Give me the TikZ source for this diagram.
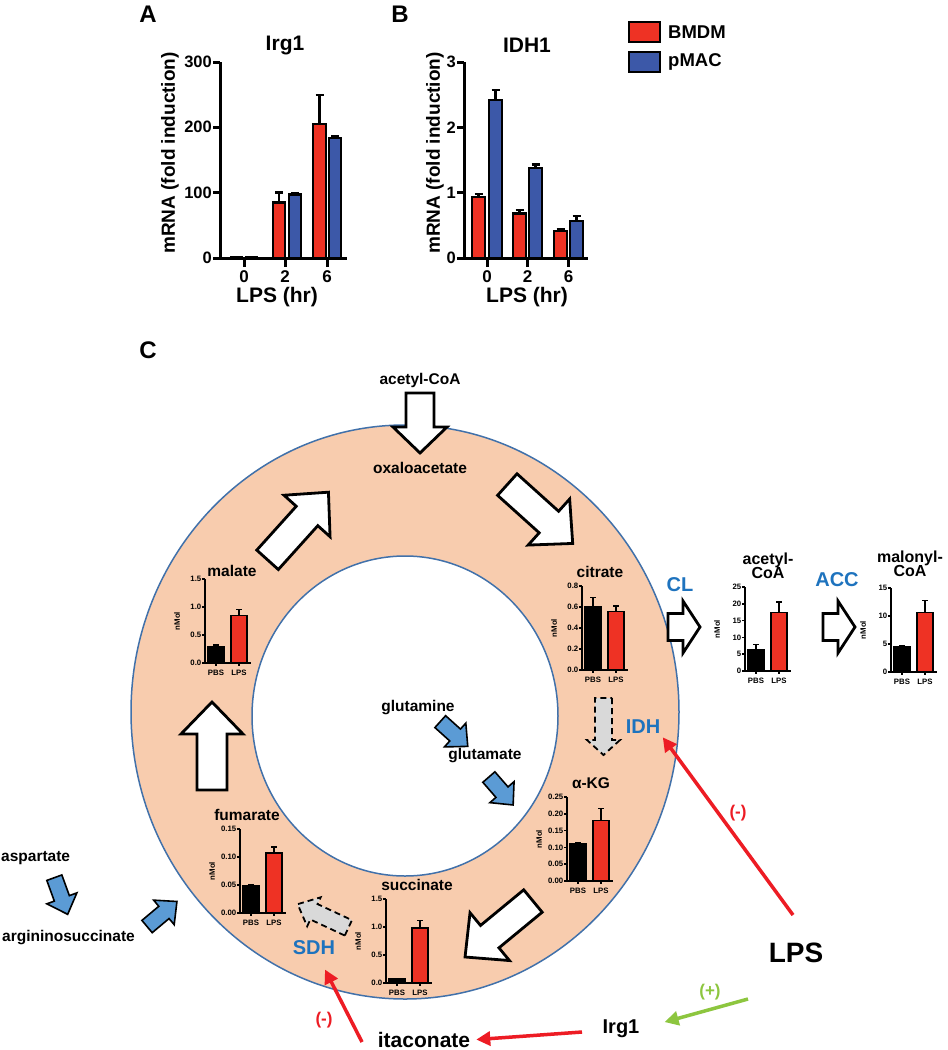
\documentclass[tikz,border=0pt]{standalone}
\usepackage{fontspec}
\setmainfont{Liberation Sans}
\usetikzlibrary{arrows.meta,calc}
\definecolor{peach}{RGB}{248,204,174}
\definecolor{ringblue}{RGB}{65,113,170}
\definecolor{barred}{RGB}{238,50,36}
\definecolor{barblue}{RGB}{60,88,168}
\definecolor{enzblue}{RGB}{30,115,190}
\definecolor{arrblue}{RGB}{91,155,213}
\definecolor{lred}{RGB}{237,28,36}
\definecolor{lgreen}{RGB}{141,198,63}
\definecolor{dgray}{RGB}{217,217,217}
\newcommand\fs[1]{\fontsize{#1}{#1}\selectfont\bfseries}
% block arrow: style, center, angle, length, shaft half width, head half width, head length
\newcommand\blk[7]{\draw[#1,shift={#2},rotate=#3] (-#4/2,-#5)--(#4/2-#7,-#5)--(#4/2-#7,-#6)--(#4/2,0)--(#4/2-#7,#6)--(#4/2-#7,#5)--(-#4/2,#5)--cycle;}
% bar of panels A/B: x1,x2,top,err,colour
\newcommand\pbar[5]{\draw[barA,fill=#5] (#1,258) rectangle (#2,#3);
 \draw[line width=2.5pt] ({(#1+#2)/2},#3) -- ({(#1+#2)/2},#4) ({(#1+#2)/2-4},#4) -- ({(#1+#2)/2+4},#4);}
% small chart: ox, oy, max, tick labels, steps, black, black err, red, red err
\newcommand\chart[9]{%
\begin{scope}[shift={(#1,#2)}]
 \pgfmathsetmacro\cHb{-84*#6/#3}\pgfmathsetmacro\cEb{-84*#7/#3}
 \pgfmathsetmacro\cHr{-84*#8/#3}\pgfmathsetmacro\cEr{-84*#9/#3}
 \draw[cbar,fill=black] (3,0) rectangle (19,\cHb);
 \draw[cbar] (11,\cHb) -- (11,\cEb) (8,\cEb) -- (14,\cEb);
 \draw[cbar,fill=barred] (26,0) rectangle (42,\cHr);
 \draw[cbar] (34,\cHr) -- (34,\cEr) (31,\cEr) -- (37,\cEr);
 \draw[ax] (0,-84) -- (0,0) -- (46,0);
 \draw[ax] (11,0) -- (11,3) (34,0) -- (34,3);
 \foreach \t [count=\k from 0] in {#4} {
   \pgfmathsetmacro\yy{-84*\k/#5}
   \draw[ax] (0,\yy) -- (-3,\yy);
   \node[ticklab,anchor=east] at (-3,\yy) {\t};}
 \node[ticklab] at (11,10) {PBS};
 \node[ticklab] at (34,10) {LPS};
 \node[ticklab,rotate=90] at (-28,-42) {nMol};
\end{scope}}
\tikzset{
 barA/.style={draw=black,line width=2.5pt},
 axA/.style={line width=3pt},
 ax/.style={line width=1.6pt},
 cbar/.style={draw=black,line width=1.3pt},
 ticklab/.style={font=\fs{7.8},inner sep=0.5pt},
 lab/.style={font=\fs{15.5},inner sep=0pt},
 enz/.style={font=\fs{20},text=enzblue,inner sep=0pt},
 whitearr/.style={draw=black,fill=white,line width=2.8pt,line join=miter},
 bluearr/.style={draw=black,fill=arrblue,line width=1.6pt,line join=miter},
 grayarr/.style={draw=black,fill=dgray,line width=1.8pt,dash pattern=on 6pt off 4pt},
 redarr/.style={draw=lred,line width=3.5pt,-{Triangle[length=14pt,width=14pt]}},
 greenarr/.style={draw=lgreen,line width=3.5pt,-{Triangle[length=14pt,width=14pt]}},
}
\begin{document}
\begin{tikzpicture}[x=1pt,y=-1pt]
\useasboundingbox[fill=white] (0,0) rectangle (948,1050);
% ---------------- Panel A
\node[font=\fs{24}] (labA) at (148,14) {A};
\node[font=\fs{21}] (tA) at (285,45) {Irg1};
\pbar{231}{242}{257}{257}{barred}
\pbar{246}{257}{257}{257}{barblue}
\pbar{273}{285}{202.5}{192.7}{barred}
\pbar{289}{301}{194.6}{193.6}{barblue}
\pbar{313}{326}{124}{95}{barred}
\pbar{329}{341}{138}{136}{barblue}
\draw[axA] (220,62) -- (220,258) -- (347,258);
\foreach \y/\l in {62/300,127.3/200,192.7/100,258/0} {
  \draw[axA] (220,\y) -- (213,\y);
  \node[anchor=east,font=\fs{16.5},inner sep=1pt] at (213,\y) {\l};}
\foreach \x/\l in {244/0,285/2,327/6} {
  \draw[axA] (\x,258) -- (\x,267);
  \node[font=\fs{17},inner sep=0pt] at (\x,277) {\l};}
\node[font=\fs{21},inner sep=0pt] (xA) at (277,297) {LPS (hr)};
\node[font=\fs{19},rotate=90] (yA) at (170,153) {mRNA (fold induction)};
% ---------------- Panel B
\node[font=\fs{24}] (labB) at (400,14) {B};
\node[font=\fs{21}] (tB) at (527,45) {IDH1};
\pbar{472}{485}{197}{194}{barred}
\pbar{489}{502}{100}{90}{barblue}
\pbar{513}{526}{213.6}{210}{barred}
\pbar{529}{542}{168}{164.6}{barblue}
\pbar{554}{567}{231}{229}{barred}
\pbar{570}{583}{221}{216}{barblue}
\draw[axA] (464,62) -- (464,258) -- (588,258);
\foreach \y/\l in {62/3,127.3/2,192.7/1,258/0} {
  \draw[axA] (464,\y) -- (457,\y);
  \node[anchor=east,font=\fs{16.5},inner sep=1pt] at (457,\y) {\l};}
\foreach \x/\l in {487/0,527.5/2,568.5/6} {
  \draw[axA] (\x,258) -- (\x,267);
  \node[font=\fs{17},inner sep=0pt] at (\x,277) {\l};}
\node[font=\fs{21},inner sep=0pt] (xB) at (527,297) {LPS (hr)};
\node[font=\fs{19},rotate=90] (yB) at (435,153) {mRNA (fold induction)};
% legend
\draw[line width=2.5pt,fill=barred] (629,22) rectangle (660,42);
\draw[line width=2.5pt,fill=barblue] (629,52) rectangle (660,72);
\node[font=\fs{18.5},anchor=west,inner sep=0pt] (lg1) at (668,32) {BMDM};
\node[font=\fs{18.5},anchor=west,inner sep=0pt] (lg2) at (668,62) {pMAC};
% ---------------- Panel C
\node[font=\fs{24}] (labC) at (148,350) {C};
\draw[ringblue,line width=1.5pt,fill=peach] (405,712) ellipse [x radius=274,y radius=287];
\draw[ringblue,line width=1.5pt,fill=white] (405,716) ellipse [x radius=153,y radius=160];
% white arrows of the cycle
\node[lab] (acoa) at (420,380) {acetyl-CoA};
\blk{whitearr}{(420,423)}{-90}{60}{14}{27}{26}
\node[lab] (oaa) at (420,468) {oxaloacetate};
\blk{whitearr}{(540,514)}{-42}{88}{14.5}{31}{32}
\blk{whitearr}{(298,526)}{48}{91}{14.5}{31}{32}
\blk{whitearr}{(212,746)}{90}{88}{15}{31}{32}
\blk{whitearr}{(499,929)}{-140.5}{88}{14.5}{31}{32}
% charts
\node[lab] (mal) at (232,571) {malate};
\chart{205}{663}{1.5}{0.0,0.5,1.0,1.5}{3}{0.3}{0.32}{0.85}{0.95}
\node[lab] (cit) at (600,572) {citrate};
\chart{582}{670}{0.8}{0.0,0.2,0.4,0.6,0.8}{4}{0.6}{0.69}{0.56}{0.61}
\node[lab] (akg) at (591,783) {α-KG};
\chart{567}{881}{0.25}{0.00,0.05,0.10,0.15,0.20,0.25}{5}{0.11}{0.115}{0.18}{0.215}
\node[lab] (fum) at (247,815) {fumarate};
\chart{240}{913}{0.15}{0.00,0.05,0.10,0.15}{3}{0.048}{0.05}{0.107}{0.118}
\node[lab] (suc) at (417,885) {succinate};
\chart{386}{983}{1.5}{0.0,0.5,1.0,1.5}{3}{0.07}{0.08}{0.98}{1.12}
\node[lab,align=center,font=\fontsize{16}{14.5}\selectfont\bfseries] (acoa2) at (768,566) {acetyl-\\CoA};
\chart{745}{671}{25}{0,5,10,15,20,25}{5}{6.5}{7.8}{17.5}{20.5}
\node[lab,align=center,font=\fontsize{16}{14.5}\selectfont\bfseries] (mcoa) at (910,564) {malonyl-\\CoA};
\chart{891}{672}{15}{0,5,10,15}{3}{4.6}{4.7}{10.6}{12.8}
% enzymes and export arrows
\node[enz] (CL) at (680,585) {CL};
\blk{whitearr}{(684,627)}{0}{32}{13.5}{26}{17}
\node[enz] (ACC) at (837,580) {ACC};
\blk{whitearr}{(839,627)}{0}{32}{13.5}{26}{17}
\node[enz] (IDH) at (643,727) {IDH};
\blk{grayarr}{(603.5,726.5)}{-90}{57}{8.5}{16.5}{15}
\node[enz] (SDH) at (314,948) {SDH};
\blk{grayarr}{(323,916)}{155}{56}{8.5}{16}{18}
% glutamine
\node[lab] (gln) at (418,708) {glutamine};
\blk{bluearr}{(454,734)}{-42}{37}{8}{16}{17}
\node[lab] (glu) at (485,756) {glutamate};
\blk{bluearr}{(501,791)}{-49}{37}{8}{16}{17}
% aspartate
\node[lab,anchor=west] (asp) at (1,858) {aspartate};
\blk{bluearr}{(61,896)}{-70}{39}{8}{16}{17}
\node[lab,anchor=west] (ags) at (2,938) {argininosuccinate};
\blk{bluearr}{(162,914)}{40}{39}{8}{16}{17}
% regulation
\node[font=\fs{28},inner sep=0pt] (LPS) at (796,953) {LPS};
\node[font=\fs{20},inner sep=0pt] (Irg1) at (621,1029) {Irg1};
\node[font=\fs{21},inner sep=0pt] (itac) at (424,1040) {itaconate};
\coordinate (lpsTail) at (793,915);
\coordinate (gTail) at (748,999);
\coordinate (irgTail) at (582,1032);
\coordinate (itTail) at (362,1042);
\draw[redarr,shorten >=4pt] (lpsTail) -- (IDH.south east);
\node[font=\fs{17},text=lred] (m1) at (738,813) {(-)};
\draw[greenarr,shorten >=26pt] (gTail) -- (Irg1.east);
\node[font=\fs{17},text=lgreen] (p1) at (710,992) {(+)};
\draw[redarr,shorten >=6pt] (irgTail) -- (itac.east);
\draw[redarr,shorten >=16pt] (itTail) -- (SDH);
\node[font=\fs{17},text=lred] (m2) at (324,1020) {(-)};
\end{tikzpicture}
\end{document}
